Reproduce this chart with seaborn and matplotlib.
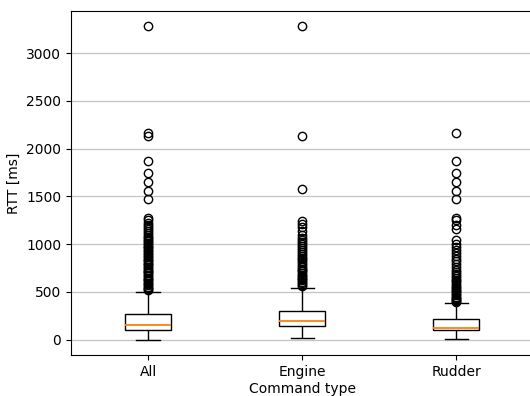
import numpy as np
import pandas as pd
import matplotlib
matplotlib.use("Agg")
import matplotlib.pyplot as plt
import seaborn as sns

# ---- data (summary statistics, ms) ----
groups = ["All", "Engine", "Rudder"]
whisk_lo = [0, 14, 4]
q1 = [101, 139, 97]
median = [149, 191, 118]
q3 = [268, 305, 215]
whisk_hi = [500, 541, 385]

outliers_all = [520, 530, 545, 555, 570, 585, 595, 610, 625, 640, 650, 665,
                680, 695, 710, 720, 735, 750, 765, 780, 790, 805, 820, 835,
                850, 865, 880, 895, 910, 925, 940, 955, 970, 985, 1000, 1015,
                1030, 1045, 1060, 1080, 1100, 1120, 1140, 1160, 1180, 1200,
                1220, 1250, 1270, 1470, 1560, 1650, 1750, 1870, 2130, 2160,
                3280]
outliers_engine = [560, 575, 590, 605, 620, 635, 650, 665, 680, 700, 715, 730,
                   745, 760, 780, 800, 820, 840, 860, 880, 900, 920, 940, 960,
                   980, 1000, 1020, 1040, 1060, 1100, 1140, 1180, 1210, 1240,
                   1580, 2130, 3280]
outliers_rudder = [395, 405, 415, 425, 440, 450, 465, 480, 495, 510, 525, 540,
                   555, 570, 590, 610, 630, 650, 670, 690, 710, 730, 760, 790,
                   820, 850, 880, 910, 940, 970, 1000, 1040, 1160, 1200, 1250,
                   1270, 1470, 1560, 1650, 1750, 1870, 2160]
outliers = [outliers_all, outliers_engine, outliers_rudder]

# Rebuild a sample per group that reproduces the read box statistics
rows = []
for i, g in enumerate(groups):
    vals = ([whisk_lo[i]] + [q1[i]] * 200 + [median[i]] * 200 +
            [q3[i]] * 200 + [whisk_hi[i]] + outliers[i])
    rows += [(g, v) for v in vals]
df = pd.DataFrame(rows, columns=["Command type", "RTT"])

fig = plt.figure(figsize=(5.3, 3.96), dpi=100)
ax = fig.add_axes([0.134, 0.1035, 0.872, 0.8685])
ax.set_axisbelow(True)
ax.yaxis.grid(True, color="#c4c4c4", linewidth=0.9)

sns.boxplot(data=df, x="Command type", y="RTT", ax=ax, width=0.3,
            color="white", linecolor="black", linewidth=1.0, fliersize=6,
            medianprops={"color": "#ff7f0e", "linewidth": 1.3},
            flierprops={"marker": "o", "markerfacecolor": "none",
                        "markeredgecolor": "black", "markeredgewidth": 1.0})

ax.set_ylim(-160, 3440)
ax.set_xlim(-0.5, 2.5)
ax.set_yticks([0, 500, 1000, 1500, 2000, 2500, 3000])
ax.set_ylabel("RTT [ms]", fontsize=10)
ax.set_xlabel("Command type", fontsize=10, labelpad=2)
ax.tick_params(labelsize=10, length=3.5)
ax.xaxis.grid(False)
for s in ax.spines.values():
    s.set_color("black")
    s.set_linewidth(0.8)
ax.spines["right"].set_visible(False)

fig.savefig("out.png", dpi=100)
